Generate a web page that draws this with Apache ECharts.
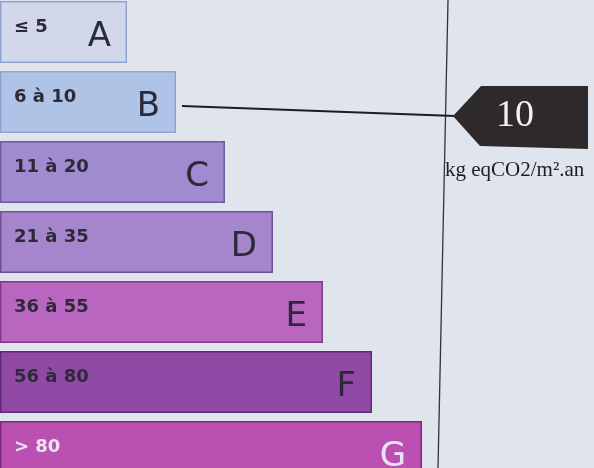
<!DOCTYPE html>
<html>
<head>
<meta charset="utf-8">
<script src="https://cdn.jsdelivr.net/npm/echarts@6/dist/echarts.min.js"></script>
<style>
  html, body { margin: 0; padding: 0; background: #dfe4ed; }
  #chart { width: 594px; height: 468px; }
</style>
</head>
<body>
<div id="chart"></div>
<script>
// classes GES (étiquette climat)
var classes = ['A', 'B', 'C', 'D', 'E', 'F', 'G']
var ranges = ['≤ 5', '6 à 10', '11 à 20', '21 à 35', '36 à 55', '56 à 80', '> 80']
// longueur de chaque barre (échelle 0..594)
var barLength = [127, 176, 225, 273, 323, 372, 422]
var barColors = ['#d2d8ec', '#aec3e6', '#a08bd0', '#a585cc', '#b866c0', '#904aa6', '#bb50b2']
var borderColors = ['#8ea4cc', '#8ca6d0', '#6e5aa0', '#6e5296', '#7e3c88', '#5e2c74', '#7e2a7c']
var textColors = ['#2c2a36', '#2c2a36', '#2c2a36', '#2c2a36', '#2c2a36', '#2c2a36', '#e8e4f0']
var currentValue = 10
var currentClass = 'B'
var unitText = 'kg eqCO2/m².an'

var myChart = echarts.init(document.getElementById('chart'))

var barData = barLength.map(function (v, i) {
  return {
    value: v,
    itemStyle: { color: barColors[i], borderColor: borderColors[i], borderWidth: 1.5 },
    label: { color: textColors[i] }
  }
})
var letterData = barLength.map(function (v, i) {
  return {
    value: v,
    label: { color: textColors[i] }
  }
})

var option = {
  backgroundColor: '#dfe4ed',
  animation: false,
  grid: { left: 0, right: 0, top: -3, height: 490, outerBoundsMode: 'none' },
  xAxis: { type: 'value', min: 0, max: 594, show: false },
  yAxis: {
    type: 'category',
    data: classes,
    inverse: true,
    show: false
  },
  series: [
    {
      type: 'bar',
      barWidth: 62,
      data: barData,
      label: {
        show: true,
        position: 'insideLeft',
        distance: 14,
        offset: [0, -5],
        fontFamily: 'DejaVu Sans',
        fontWeight: 'bold',
        fontSize: 18,
        formatter: function (p) { return ranges[p.dataIndex] }
      }
    },
    {
      type: 'bar',
      barWidth: 62,
      barGap: '-100%',
      data: letterData,
      itemStyle: { color: 'rgba(0,0,0,0)' },
      label: {
        show: true,
        position: 'insideRight',
        distance: 16,
        offset: [0, 5],
        fontFamily: 'DejaVu Sans',
        fontSize: 34,
        formatter: function (p) { return classes[p.dataIndex] }
      }
    }
  ]
}
myChart.setOption(option)

// flèche de la valeur
var yB = myChart.convertToPixel({ yAxisIndex: 0 }, currentClass)
var xB = myChart.convertToPixel({ xAxisIndex: 0 }, barLength[classes.indexOf(currentClass)])
myChart.setOption({
  graphic: [
    {
      type: 'line',
      shape: { x1: 448, y1: 0, x2: 438, y2: 468 },
      style: { stroke: '#2e3348', lineWidth: 1.3 }
    },
    {
      type: 'line',
      shape: { x1: xB + 6, y1: yB + 4, x2: 455, y2: yB + 14 },
      style: { stroke: '#1e1c20', lineWidth: 2 }
    },
    {
      type: 'polygon',
      shape: { points: [[453, yB + 14], [481, yB - 16], [588, yB - 16], [588, yB + 47], [480, yB + 44]] },
      style: { fill: '#2e2a2c' }
    },
    {
      type: 'text',
      x: 515,
      y: yB + 14,
      style: {
        text: String(currentValue),
        fill: '#f2f0f0',
        font: '38px "Liberation Serif"',
        align: 'center',
        verticalAlign: 'middle'
      }
    },
    {
      type: 'text',
      x: 445,
      y: yB + 68,
      style: {
        text: unitText,
        fill: '#1e1c24',
        font: '21px "Liberation Serif"',
        align: 'left',
        verticalAlign: 'middle'
      }
    }
  ]
})
</script>
</body>
</html>
